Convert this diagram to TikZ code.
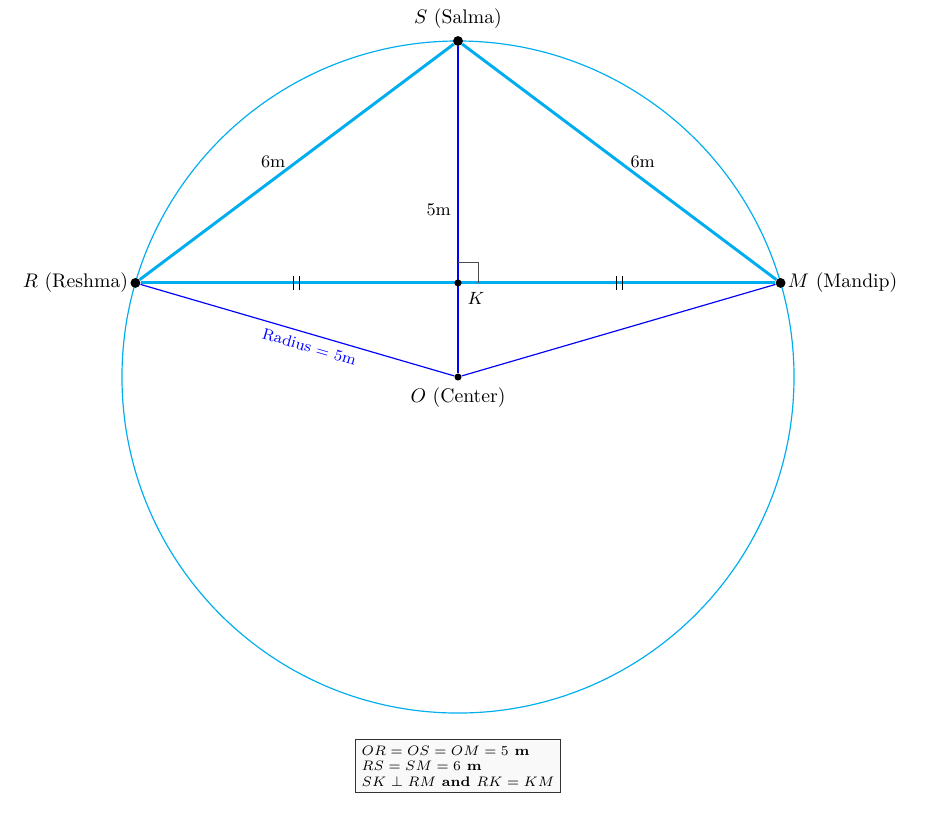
\documentclass[tikz,border=0pt]{standalone}
\usepackage{tikz}
\usepackage{xcolor}
\usepackage{amssymb}
\usetikzlibrary{calc, backgrounds}

\definecolor{skyline}{RGB}{0,174,239}

\begin{document}
\begin{tikzpicture}[scale=1.2,
  bigdot/.style={circle, fill=black, inner sep=0pt, minimum size=5pt},
  smalldot/.style={circle, fill=black, inner sep=0pt, minimum size=3.6pt},
  side/.style={skyline, line width=1.5pt},
  radiusline/.style={blue, semithick},
  tickmark/.style={black, thick}]
\useasboundingbox (-6.815,-6.667) rectangle (7.068,5.610);

% the three friends, the center and the foot K
\node[bigdot, label=above:{$S$ (Salma)}] (S) at (0,5) {};
\node[bigdot, label={[label distance=-2.5pt]left:{$R$ (Reshma)}}] (R) at (-4.8,1.4) {};
\node[bigdot, label={[label distance=-2.5pt]right:{$M$ (Mandip)}}] (M) at (4.8,1.4) {};
\node[smalldot, label=below:{$O$ (Center)}] (O) at (0,0) {};
\node[smalldot, label={[font=\small]below right:$K$}] (K) at (0,1.4) {};

\begin{scope}[on background layer]
\draw[skyline, semithick] (O) circle (5);

\draw[side] (R) -- (S) node[midway, left, inner sep=5pt, text=black, font=\small] {6m};
\draw[side] (S) -- (M) node[midway, right, inner sep=5pt, text=black, font=\small] {6m};
\draw[side] (R) -- (M);

\draw[radiusline] (S) -- (O) node[midway, left, text=black, font=\small] {5m};
\draw[radiusline] (R) -- (O) node[pos=0.55, below, sloped, font=\footnotesize] {Radius = 5m};
\draw[radiusline] (M) -- (O);
\end{scope}

% right angle at K
\draw[black!70, thin] ($(K)+(0,0.3)$) -- ++(0.3,0) -- ++(0,-0.3);

% equal parts RK = KM
\foreach \a/\b in {R/K, K/M}
  \draw[tickmark] ($(\a)!.5!(\b)$) ++(-0.045,-0.1) -- ++(0,0.2) ++(0.09,0) -- ++(0,-0.2);

\node[draw=black!80, fill=gray!5, align=left, inner sep=3pt,
      font=\scriptsize\bfseries] (note) at (0,-5.79)
  {$OR = OS = OM = 5$ m\\
   $RS = SM = 6$ m\\
   $SK \perp RM$ and $RK = KM$};
\end{tikzpicture}
\end{document}
